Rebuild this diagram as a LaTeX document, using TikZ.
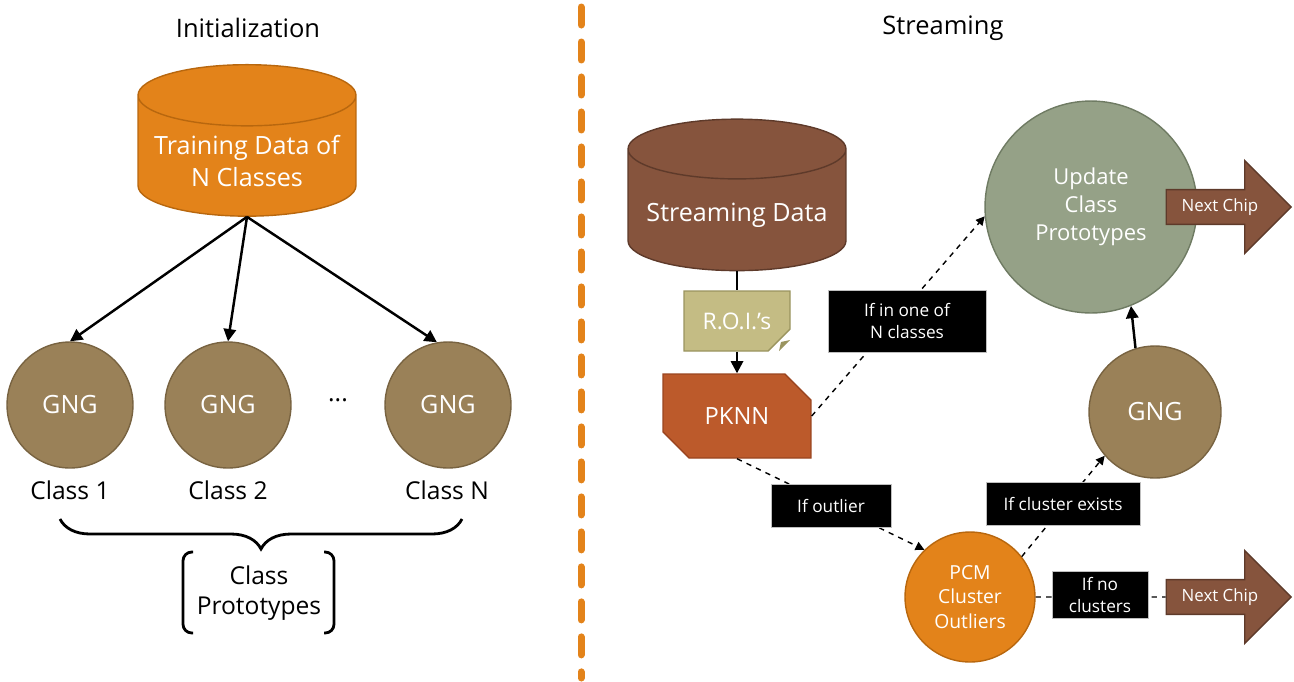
\documentclass[tikz,border=0pt]{standalone}
\usepackage{fontspec}
\setmainfont{Open Sans}
\usetikzlibrary{shapes.geometric,shapes.misc,shapes.arrows,arrows.meta,decorations.pathreplacing}

\definecolor{orangeF}{HTML}{E3831A}
\definecolor{orangeT}{HTML}{F0B272}
\definecolor{orangeD}{HTML}{B8670E}
\definecolor{brownF}{HTML}{86543D}
\definecolor{brownT}{HTML}{B69A8C}
\definecolor{brownD}{HTML}{5E3A2A}
\definecolor{gngF}{HTML}{9A8158}
\definecolor{gngD}{HTML}{786341}
\definecolor{sageF}{HTML}{95A187}
\definecolor{sageD}{HTML}{6F7B63}
\definecolor{roiF}{HTML}{C4BC84}
\definecolor{roiD}{HTML}{9A945F}
\definecolor{pknnF}{HTML}{BC5A2B}
\definecolor{pknnD}{HTML}{9A4520}

\begin{document}
\begin{tikzpicture}[x=0.02cm, y=-0.02cm,
        title/.style={font=\fontsize{14.5}{17}\selectfont},
        caption/.style={font=\fontsize{14}{17}\selectfont, align=center},
        db/.style={cylinder, shape border rotate=90, aspect=0.31, line width=0.8pt,
            cylinder uses custom fill, minimum width=4.36cm, minimum height=3.03cm,
            text=white, align=center, font=\fontsize{14.3}{18}\selectfont},
        gng/.style={circle, fill=gngF, draw=gngD, line width=0.8pt, minimum size=2.52cm,
            text=white, font=\fontsize{14.3}{16}\selectfont},
        lbl/.style={fill=black, draw=gray!50, line width=0.4pt, text=white, align=center,
            font=\fontsize{9.8}{12.5}\selectfont},
        chip/.style={single arrow, single arrow head extend=0.5cm, minimum height=2.5cm,
            minimum width=1.86cm, fill=brownF, draw=brownD, line width=0.8pt, text=white,
            font=\fontsize{9.6}{11}\selectfont},
        link/.style={line width=1.4pt, -{Triangle[length=7pt,width=7pt]}},
        maybe/.style={line width=0.8pt, dashed, -{Triangle[length=5pt,width=5pt]}}]

    \useasboundingbox (0,0) rectangle (1294,681);

    % left half
    \node[title] (initT) at (248,28) {Initialization};
    \node[db, fill=orangeF, draw=orangeD, cylinder body fill=orangeF, cylinder end fill=orangeT]
        (train) at (247,161) {Training Data of\\N Classes};
    \node[gng] (gngA) at (70,405) {GNG};
    \node[gng] (gngB) at (228,405) {GNG};
    \node[gng] (gngN) at (448,405) {GNG};
    \node[caption] (dots) at (338,400) {...};
    \node[caption] (clsA) at (70,490) {Class 1};
    \node[caption] (clsB) at (228,490) {Class 2};
    \node[caption] (clsN) at (447,490) {Class N};
    \node[caption] (proto) at (259,593) {Class\\Prototypes};

    \draw[link] (train.south) -- (gngA.north);
    \draw[link] (train.south) -- (gngB.north);
    \draw[link] (train.south) -- (gngN.100);

    \draw[line width=1.6pt, decorate, decoration={brace, mirror, amplitude=0.6cm}]
        (60,519) -- (462,519);
    \draw[line width=1.6pt, rounded corners=5pt] (193,552) -- (183,552) -- (183,633) -- (193,633);
    \draw[line width=1.6pt, rounded corners=5pt] (324,552) -- (334,552) -- (334,633) -- (324,633);

    % separator
    \draw[orangeF, line width=0.14cm, line cap=round, dash pattern=on 0.36cm off 0.34cm]
        (581,7) -- (581,678);

    % right half
    \node[title] (streamT) at (943,28) {Streaming};
    \node[db, fill=brownF, draw=brownD, cylinder body fill=brownF, cylinder end fill=brownT]
        (data) at (737,215) {Streaming Data};
    \node[chamfered rectangle, chamfered rectangle corners=south east,
        chamfered rectangle xsep=0.22cm, chamfered rectangle ysep=0.22cm,
        fill=roiF, draw=roiD, line width=0.8pt, minimum width=2.12cm, minimum height=1.2cm,
        text=white, font=\fontsize{13}{15}\selectfont] (roi) at (737,321) {R.O.I.’s};
    \fill[roiD] (779,351) -- (790,340) -- (781,342) -- cycle;
    \node[chamfered rectangle, chamfered rectangle corners={north east,south west},
        chamfered rectangle xsep=0.26cm, chamfered rectangle ysep=0.26cm,
        fill=pknnF, draw=pknnD, line width=0.8pt, minimum width=2.96cm, minimum height=1.68cm,
        text=white, font=\fontsize{13.5}{18}\selectfont] (pknn) at (737,416) {PKNN};
    \node[circle, fill=sageF, draw=sageD, line width=0.8pt, minimum size=4.24cm, text=white,
        align=center, font=\fontsize{12.5}{16}\selectfont] (upd) at (1091,207)
        {Update\\Class\\Prototypes};
    \node[gng, minimum size=2.64cm] (gngR) at (1155,412) {GNG};
    \node[circle, fill=orangeF, draw=orangeD, line width=0.8pt, minimum size=2.6cm, text=white,
        align=center, font=\fontsize{11}{14}\selectfont] (pcm) at (970,597)
        {PCM\\Cluster\\Outliers};
    \node[chip] (chipA) at (1220,207) {Next Chip};
    \node[chip] (chipB) at (1220,597) {Next Chip};

    \draw[line width=1.4pt] (data.south) -- (roi.north);
    \draw[link] (roi.south) -- (pknn.north);
    \draw[maybe] (pknn.east) -- (upd.185);
    \draw[maybe] (pknn.south) -- (pcm.134);
    \draw[maybe] (pcm.38) -- (gngR.221);
    \draw[link] (gngR.107) -- (upd.292);
    \draw[line width=0.8pt, dashed] (pcm.east) -- (chipB.west);

    \node[lbl, minimum width=3.16cm, minimum height=1.24cm] (ifIn) at (907,321) {If in one of\\N classes};
    \node[lbl, minimum width=2.4cm, minimum height=0.86cm] (ifOut) at (831,506) {If outlier};
    \node[lbl, minimum width=3.08cm, minimum height=0.86cm] (ifExist) at (1063,504) {If cluster exists};
    \node[lbl, minimum width=1.92cm, minimum height=0.86cm] (ifNo) at (1100,595) {If no\\clusters};
\end{tikzpicture}
\end{document}
